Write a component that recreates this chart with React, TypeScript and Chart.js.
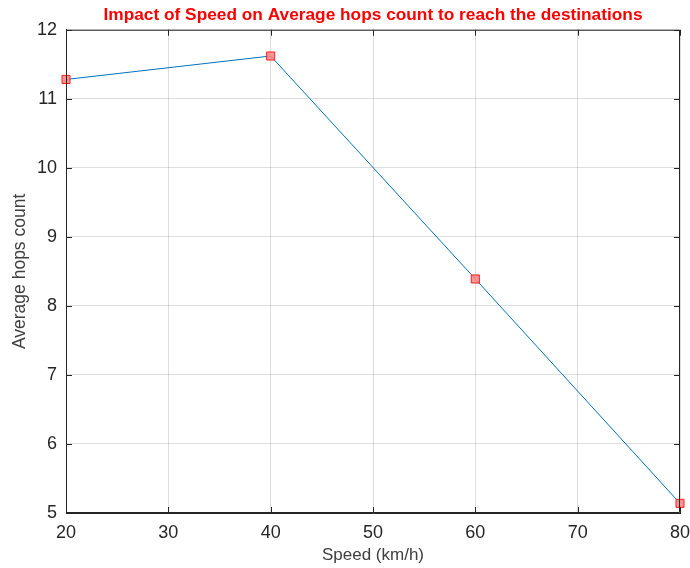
import React, { useEffect, useRef } from "react";
import { Chart, registerables } from "chart.js";

Chart.register(...registerables);

const speeds = [20, 40, 60, 80];
const avgHops = [11.28, 11.62, 8.39, 5.14];
const xTicks = [20, 30, 40, 50, 60, 70, 80];
const yTicks = [5, 6, 7, 8, 9, 10, 11, 12];

const FONT = "'Liberation Sans', Arial, sans-serif";
const AXIS = "#262626";

const boxPlugin = {
  id: "boxTicks",
  afterDraw(chart: any) {
    const { ctx, chartArea, scales } = chart;
    const { left, right, top, bottom } = chartArea;
    ctx.save();
    ctx.strokeStyle = AXIS;
    ctx.lineWidth = 1;
    ctx.beginPath();
    ctx.rect(left + 0.5, top + 0.5, right - left - 1, bottom - top - 1);
    ctx.stroke();
    const tl = 6;
    ctx.beginPath();
    xTicks.forEach((v) => {
      const x = Math.round(scales.x.getPixelForValue(v)) + 0.5;
      ctx.moveTo(x, bottom);
      ctx.lineTo(x, bottom - tl);
      ctx.moveTo(x, top);
      ctx.lineTo(x, top + tl);
    });
    yTicks.forEach((v) => {
      const y = Math.round(scales.y.getPixelForValue(v)) + 0.5;
      ctx.moveTo(left, y);
      ctx.lineTo(left + tl, y);
      ctx.moveTo(right, y);
      ctx.lineTo(right - tl, y);
    });
    ctx.stroke();
    ctx.restore();
  },
};

export default function App() {
  const ref = useRef<HTMLCanvasElement>(null);
  useEffect(() => {
    document.body.style.margin = "0";
    const chart = new Chart(ref.current!, {
      type: "line",
      data: {
        datasets: [
          {
            data: speeds.map((s, i) => ({ x: s, y: avgHops[i] })),
            borderColor: "#0072BD",
            borderWidth: 1,
            pointStyle: "rect",
            pointRadius: 5.7,
            pointBackgroundColor: "rgba(255,130,130,0.85)",
            pointBorderColor: "#FF2020",
            pointBorderWidth: 1,
            clip: false as any,
            tension: 0,
          },
        ],
      },
      options: {
        animation: false,
        responsive: false,
        maintainAspectRatio: false,
        layout: { padding: { left: 0, right: 10, top: 0, bottom: 0 } },
        plugins: {
          legend: { display: false },
          tooltip: { enabled: false },
          title: {
            display: true,
            fullSize: false,
            text: "Impact of Speed on Average hops count to reach the destinations",
            color: "#FF0000",
            font: { family: FONT, size: 17.3, weight: "bold" },
            padding: { top: 5, bottom: 4 },
          },
        },
        scales: {
          x: {
            type: "linear",
            min: 20,
            max: 80,
            afterBuildTicks: (s: any) => {
              s.ticks = xTicks.map((v) => ({ value: v }));
            },
            afterFit: (s: any) => {
              s.height = 55;
              s.paddingLeft = 0;
              s.paddingRight = 0;
            },
            border: { display: true, color: AXIS },
            grid: { color: "rgba(0,0,0,0.13)", drawTicks: false },
            ticks: {
              color: AXIS,
              padding: 9,
              font: { family: FONT, size: 18 },
            },
            title: {
              display: true,
              text: "Speed (km/h)",
              color: "#404040",
              font: { family: FONT, size: 17 },
              padding: { top: 0, bottom: 2 },
            },
          },
          y: {
            type: "linear",
            min: 5,
            max: 12,
            afterBuildTicks: (s: any) => {
              s.ticks = yTicks.map((v) => ({ value: v }));
            },
            afterFit: (s: any) => {
              s.width = 66;
            },
            border: { display: true, color: AXIS },
            grid: { color: "rgba(0,0,0,0.13)", drawTicks: false },
            ticks: {
              color: AXIS,
              padding: 9,
              font: { family: FONT, size: 18 },
            },
            title: {
              display: true,
              text: "Average hops count",
              color: "#404040",
              font: { family: FONT, size: 17.5 },
              padding: { top: 10, bottom: 0 },
            },
          },
        },
      },
      plugins: [boxPlugin],
    });
    return () => chart.destroy();
  }, []);
  return (
    <div style={{ position: "absolute", left: 0, top: 0, width: 690, height: 568, background: "#fff" }}>
      <canvas ref={ref} width={690} height={568} style={{ width: 690, height: 568 }} />
    </div>
  );
}
